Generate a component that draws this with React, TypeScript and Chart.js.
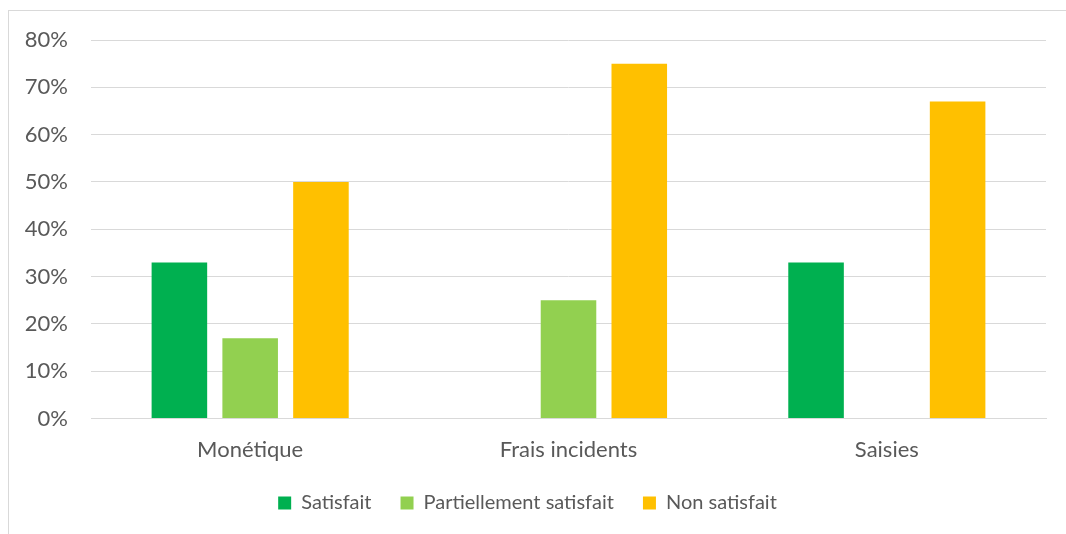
import React, { useEffect, useRef } from "react";
import { Chart, registerables } from "chart.js";

Chart.register(...registerables);

const categories = ["Monétique", "Frais incidents", "Saisies"];
const seriesNames = ["Satisfait", "Partiellement satisfait", "Non satisfait"];
const satisfait = [33, 0, 33];
const partiellement = [17, 25, 0];
const nonSatisfait = [50, 75, 67];
const colors = ["#00B050", "#92D050", "#FFC000"];

export default function App() {
  const ref = useRef<HTMLCanvasElement | null>(null);
  useEffect(() => {
    if (!ref.current) return;
    const family = "Lato, 'Open Sans', sans-serif";
    const axisFont = { family, size: 22 };
    const legendFont = { family, size: 20 };
    const chart = new Chart(ref.current, {
      type: "bar",
      data: {
        labels: categories,
        datasets: [satisfait, partiellement, nonSatisfait].map((d, i) => ({
          label: seriesNames[i],
          data: d,
          backgroundColor: colors[i],
          borderWidth: 0,
          barPercentage: 0.785,
          categoryPercentage: 0.667,
        })),
      },
      options: {
        animation: false,
        responsive: false,
        maintainAspectRatio: false,
        layout: { padding: { top: 29, right: 20, bottom: 12, left: 0 } },
        plugins: {
          tooltip: { enabled: false },
          legend: {
            position: "bottom",
            labels: {
              boxWidth: 13,
              boxHeight: 13,
              padding: 29,
              color: "#595959",
              font: legendFont,
            },
          },
        },
        scales: {
          x: {
            grid: { display: false, drawTicks: false },
            border: { display: true, color: "#d9d9d9", width: 1 },
            ticks: { color: "#595959", font: axisFont, padding: 18 },
            afterFit: (s: any) => {
              s.height -= 17;
            },
          },
          y: {
            min: 0,
            max: 80,
            afterFit: (s: any) => {
              s.width = 82;
              s.paddingTop = 0;
            },
            grid: { color: "#d9d9d9", drawTicks: false, lineWidth: 1 },
            border: { display: false },
            ticks: {
              stepSize: 10,
              color: "#595959",
              font: axisFont,
              padding: 23,
              callback: (v: any) => v + "%",
            },
          },
        },
      },
    });
    return () => chart.destroy();
  }, []);
  return (
    <div
      style={{
        position: "absolute",
        left: 8,
        top: 10,
        width: 1070,
        height: 540,
        borderLeft: "1px solid #d9d9d9",
        borderTop: "1px solid #d9d9d9",
        background: "#fff",
      }}
    >
      <canvas ref={ref} width={1057} height={524} style={{ display: "block" }} />
    </div>
  );
}
